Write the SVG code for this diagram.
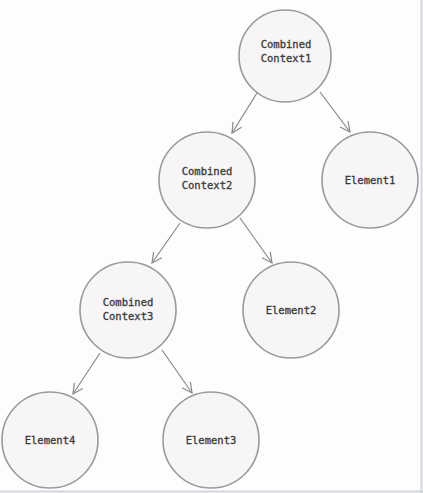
<svg xmlns="http://www.w3.org/2000/svg" width="423" height="493" viewBox="0 0 423 493">
<style>
.node circle{fill:#f7f5f5;stroke:#9a9a9a;stroke-width:1.6}
.node text{font-family:"DejaVu Sans Mono","Liberation Mono",monospace;font-size:10.5px;fill:#3a3a3a;stroke:#3a3a3a;stroke-width:0.3;text-anchor:middle}
.edges line{stroke:#8a8a8a;stroke-width:1.2;marker-end:url(#arr)}
</style>
<defs>
<marker id="arr" viewBox="0 0 12 12" refX="11" refY="6" markerWidth="12" markerHeight="12" markerUnits="userSpaceOnUse" orient="auto">
<path d="M1,1 L11,6 L1,11" fill="none" stroke="#8a8a8a" stroke-width="1.2"/>
</marker>
</defs>
<rect x="0" y="0" width="423" height="493" fill="#fdfdfd"/>
<line x1="421.5" y1="0" x2="421.5" y2="493" stroke="#d3d6dc" stroke-width="2"/>
<line x1="0" y1="491.5" x2="423" y2="491.5" stroke="#d3d6dc" stroke-width="2"/>
<g class="edges">
<line x1="257" y1="93" x2="232" y2="133"/>
<line x1="320" y1="92" x2="350" y2="132"/>
<line x1="180" y1="223" x2="152" y2="263"/>
<line x1="240" y1="218" x2="272" y2="263"/>
<line x1="100" y1="353" x2="73" y2="394"/>
<line x1="162" y1="350" x2="192" y2="393"/>
</g>
<g id="cc1" class="node"><circle cx="285" cy="56" r="46"/><text x="286" y="48">Combined</text><text x="286" y="62">Context1</text></g>
<g id="cc2" class="node"><circle cx="207" cy="180" r="48"/><text x="207" y="175">Combined</text><text x="207" y="189">Context2</text></g>
<g id="el1" class="node"><circle cx="370" cy="180" r="48"/><text x="370" y="184">Element1</text></g>
<g id="cc3" class="node"><circle cx="128" cy="310" r="48"/><text x="128" y="306">Combined</text><text x="128" y="320">Context3</text></g>
<g id="el2" class="node"><circle cx="291" cy="310" r="48"/><text x="291" y="314">Element2</text></g>
<g id="el4" class="node"><circle cx="50" cy="440" r="48"/><text x="50" y="444">Element4</text></g>
<g id="el3" class="node"><circle cx="211" cy="440" r="48"/><text x="211" y="444">Element3</text></g>
</svg>
